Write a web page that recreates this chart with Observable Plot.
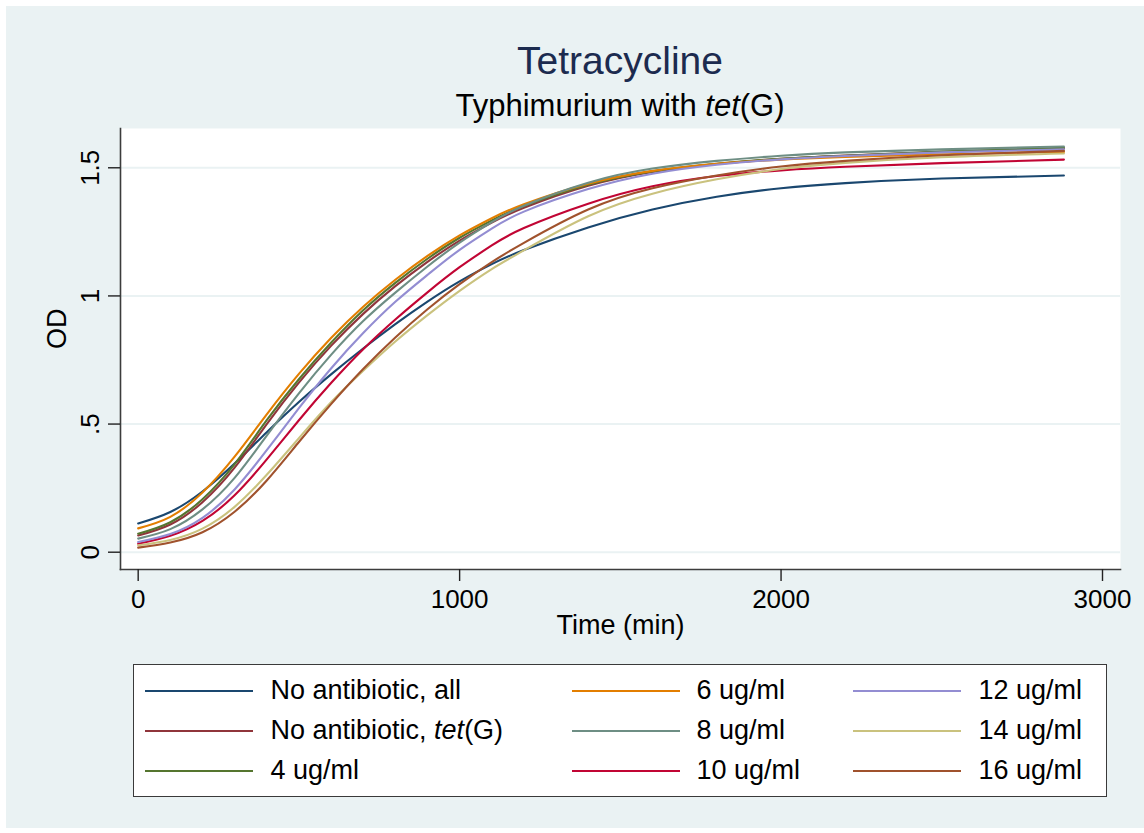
<!DOCTYPE html>
<html><head><meta charset="utf-8">
<script src="https://cdn.jsdelivr.net/npm/d3@7"></script>
<script src="https://cdn.jsdelivr.net/npm/@observablehq/plot@0.6"></script>
<style>
html,body{margin:0;padding:0;background:#fff;}
#wrap{position:relative;width:1144px;height:833px;overflow:hidden;font-family:"Liberation Sans",Arial,Helvetica,sans-serif;}
#bg{position:absolute;left:6px;top:6px;right:0;bottom:5px;background:#eaf2f3;}
#chart{position:absolute;left:0;top:0;}
.ttl{position:absolute;left:120px;width:1000px;text-align:center;line-height:1;white-space:nowrap;}
#legend{position:absolute;left:133px;top:664px;width:974px;height:133px;box-sizing:border-box;border:1.5px solid #3a3a3a;background:#fff;}
.lg-line{position:absolute;height:0;border-top:2px solid;width:108px;}
.lg-text{position:absolute;font-size:27px;line-height:1;white-space:nowrap;color:#000;}
</style></head>
<body>
<div id="wrap">
  <div id="bg"></div>
  <div id="chart"></div>
  <div class="ttl" id="title" style="top:41px;font-size:39px;color:#1c2b4f;">Tetracycline</div>
  <div class="ttl" id="subtitle" style="top:90px;font-size:31px;color:#000;"></div>
  <div id="legend"></div>
</div>
<script>
// ---- data ----
const times = [0,100,200,300,400,500,600,700,800,900,1000,1100,1200,1400,1600,1800,2000,2200,2500,2880];
const seriesLabels = ["No antibiotic, all","No antibiotic, tet(G)","4 ug/ml","6 ug/ml","8 ug/ml","10 ug/ml","12 ug/ml","14 ug/ml","16 ug/ml"];
const seriesColors = ["#1a476f","#90353b","#55752f","#e37e00","#6e8e84","#c10534","#938dd2","#cac27e","#a0522d"];
const noAbxAll  = [0.112,0.157,0.237,0.346,0.468,0.586,0.694,0.795,0.890,0.978,1.057,1.124,1.179,1.267,1.337,1.387,1.420,1.440,1.458,1.470];
const noAbxTetG = [0.065,0.108,0.195,0.330,0.500,0.662,0.805,0.930,1.038,1.133,1.216,1.286,1.344,1.430,1.484,1.515,1.535,1.548,1.562,1.575];
const tet4      = [0.072,0.117,0.207,0.344,0.515,0.675,0.817,0.944,1.051,1.145,1.227,1.295,1.351,1.434,1.486,1.516,1.535,1.547,1.563,1.578];
const tet6      = [0.093,0.138,0.233,0.373,0.538,0.696,0.836,0.958,1.063,1.156,1.236,1.303,1.358,1.438,1.488,1.516,1.532,1.542,1.553,1.562];
const tet8      = [0.053,0.090,0.167,0.290,0.455,0.620,0.770,0.902,1.013,1.115,1.208,1.288,1.352,1.442,1.497,1.527,1.547,1.560,1.572,1.583];
const tet10     = [0.033,0.064,0.122,0.222,0.362,0.515,0.660,0.792,0.908,1.014,1.112,1.197,1.265,1.360,1.428,1.468,1.490,1.504,1.518,1.532];
const tet12     = [0.040,0.071,0.134,0.245,0.398,0.562,0.717,0.855,0.977,1.082,1.180,1.263,1.329,1.417,1.477,1.512,1.533,1.546,1.560,1.572];
const tet14     = [0.027,0.048,0.092,0.177,0.302,0.445,0.585,0.708,0.822,0.925,1.020,1.105,1.178,1.311,1.399,1.455,1.495,1.519,1.541,1.556];
const tet16     = [0.018,0.038,0.078,0.158,0.280,0.430,0.578,0.715,0.838,0.948,1.046,1.132,1.207,1.337,1.420,1.470,1.505,1.527,1.549,1.566];
const xTicks = [0,1000,2000,3000];
const yTicks = [0,0.5,1,1.5];
const yTickLabels = ["0",".5","1","1.5"];

const seriesValues = [noAbxAll,noAbxTetG,tet4,tet6,tet8,tet10,tet12,tet14,tet16];
const rows = [];
seriesValues.forEach((vals,si)=>vals.forEach((v,i)=>rows.push({series:seriesLabels[si], t:times[i], od:v})));

const FONT = '"Liberation Sans",Arial,Helvetica,sans-serif';
const chart = Plot.plot({
  width:1144, height:833,
  marginLeft:120, marginRight:24, marginTop:128, marginBottom:264,
  style:{background:"transparent", fontFamily:FONT, color:"#000", overflow:"visible"},
  x:{domain:[-55,3056], ticks:xTicks},
  y:{domain:[-0.0675,1.6533]},
  color:{domain:seriesLabels, range:seriesColors},
  marks:[
    Plot.frame({fill:"white", stroke:"none"}),
    Plot.ruleY(yTicks,{stroke:"#eaf2f3", strokeWidth:2}),
    Plot.line(rows,{x:"t", y:"od", z:"series", stroke:"series", strokeWidth:2.1, curve:"natural"}),
    Plot.frame({anchor:"left", stroke:"#3c3c3c", strokeWidth:1.6}),
    Plot.frame({anchor:"bottom", stroke:"#3c3c3c", strokeWidth:1.6}),
    Plot.axisX({ticks:xTicks, tickSize:12, tickPadding:8, fontSize:26, tickFormat:d3.format("d"), label:null, stroke:"#222", strokeWidth:1.4}),
    Plot.axisY({ticks:yTicks, tickSize:12, tickFormat:()=>"", label:null, stroke:"#222", strokeWidth:1.4}),
    Plot.text(yTicks,{y:d=>d, text:(d,i)=>yTickLabels[i], frameAnchor:"left", dx:-30, rotate:-90, fontSize:26, textAnchor:"middle", lineAnchor:"middle", fill:"#000"}),
    Plot.text(["Time (min)"],{text:d=>d, frameAnchor:"bottom", dy:64, fontSize:27, fill:"#000"}),
    Plot.text(["OD"],{text:d=>d, frameAnchor:"left", dx:-63, rotate:-90, fontSize:27, fill:"#000"})
  ]
});
document.getElementById("chart").appendChild(chart);

const ital = s => s.replace("tet(G)","<i>tet</i>(G)");
document.getElementById("subtitle").innerHTML = ital("Typhimurium with tet(G)");

// legend
const lg = document.getElementById("legend");
const lineX = [10.5,437.5,718.5], textX = [136.5,562.5,844.5], rowY = [25.5,65.5,105.5];
seriesLabels.forEach((lab,i)=>{
  const col = Math.floor(i/3), row = i%3;
  const ln = document.createElement("div");
  ln.className="lg-line";
  ln.style.left = lineX[col]+"px"; ln.style.top = (rowY[row]-1)+"px"; ln.style.borderTopColor = seriesColors[i];
  lg.appendChild(ln);
  const tx = document.createElement("div");
  tx.className="lg-text";
  tx.style.left = textX[col]+"px"; tx.style.top = (rowY[row]-13.2)+"px";
  tx.innerHTML = ital(lab);
  lg.appendChild(tx);
});
</script>
</body></html>
